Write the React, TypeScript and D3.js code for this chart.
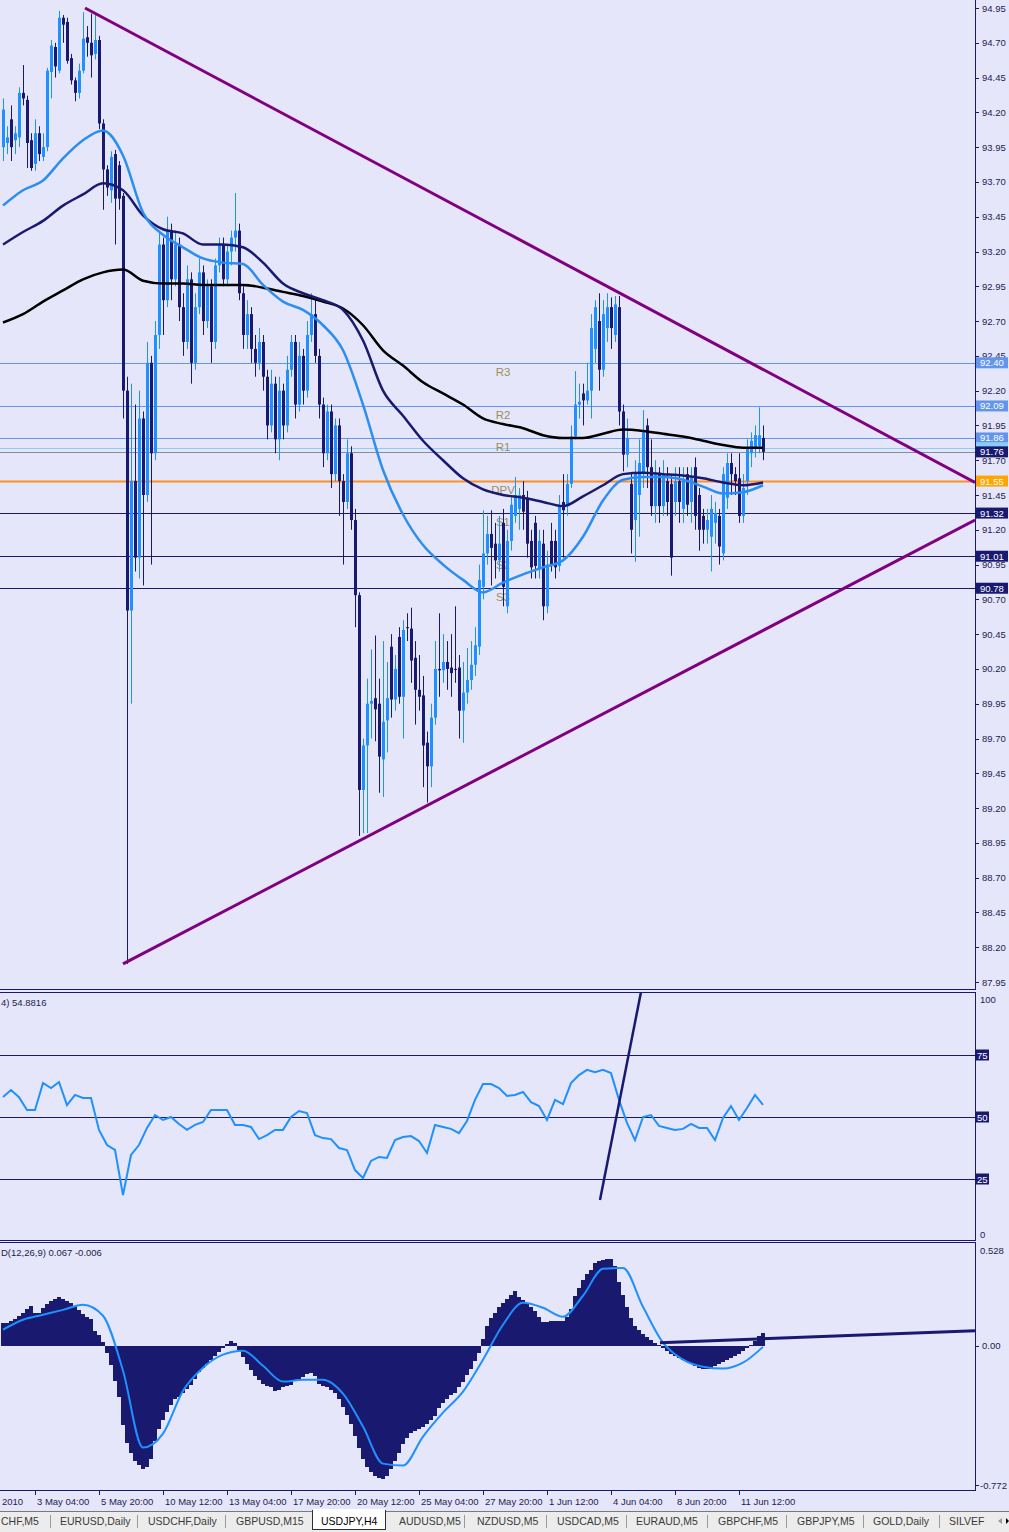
import React from 'react';
import * as d3 from 'd3';

// ---------- DATA ----------
const openP = [
  93.95,93.98,94.15,94.00,94.02,94.34,94.29,94.00,93.83,94.05,
  93.88,93.95,94.49,94.67,94.50,94.88,94.85,94.59,94.43,94.34,
  94.50,94.74,94.70,94.62,94.72,94.12,93.79,93.64,93.90,93.82,
  93.60,92.20,90.62,91.55,91.00,92.00,91.45,92.40,91.75,92.60,
  93.25,92.85,93.35,93.00,93.25,92.80,92.55,93.00,92.40,92.80,
  93.05,92.70,92.95,92.55,93.10,93.25,93.00,93.20,93.30,93.35,
  92.90,92.60,92.75,92.50,92.40,92.55,92.30,91.95,92.25,91.85,
  92.20,91.95,92.35,92.55,92.10,92.45,92.20,92.60,92.75,92.45,
  92.10,91.75,92.05,91.60,91.95,91.55,91.40,91.75,91.27,90.73,
  89.33,89.65,89.95,89.99,89.95,89.55,89.83,90.36,89.98,90.43,
  90.00,90.50,90.49,90.28,90.05,90.01,89.67,89.50,89.85,90.20,
  90.19,90.25,90.21,90.20,90.21,89.90,90.03,90.12,90.23,90.36,
  90.79,91.03,91.17,91.10,90.98,91.25,90.65,91.12,91.30,91.35,
  91.45,91.43,91.12,91.25,90.92,91.10,90.65,91.12,91.12,90.94,
  91.40,91.37,91.53,91.87,92.10,92.18,92.13,92.20,92.50,92.70,
  92.35,92.65,92.80,92.60,92.80,92.05,91.74,91.53,91.27,91.45,
  91.60,91.95,91.65,91.37,91.60,91.37,91.55,91.53,91.40,91.55,
  91.35,91.60,91.40,91.65,91.45,91.30,91.20,91.15,91.25,91.30,
  91.03,91.43,91.68,91.60,91.57,91.30,91.55,91.75,91.78,91.80,
  91.86,
];
const highP = [
  94.30,94.10,94.25,94.10,94.38,94.54,94.32,94.05,94.15,94.10,
  94.05,94.52,94.72,94.70,94.93,94.90,94.88,94.62,94.45,94.55,
  94.92,94.82,94.91,94.90,94.75,94.15,93.82,93.92,93.93,93.85,
  93.62,92.30,92.25,92.10,92.20,92.05,92.55,92.45,92.70,93.35,
  93.30,93.45,93.40,93.35,93.30,92.90,93.10,93.05,92.90,93.15,
  93.10,93.00,93.00,93.15,93.30,93.30,93.25,93.35,93.62,93.40,
  92.95,92.85,92.80,92.60,92.65,92.60,92.35,92.35,92.30,92.30,
  92.25,92.45,92.60,92.60,92.55,92.50,92.70,92.90,92.85,92.50,
  92.15,92.10,92.10,92.00,92.00,91.60,91.85,91.80,91.35,90.75,
  89.70,90.13,90.34,90.44,90.13,90.40,90.25,90.45,90.30,90.50,
  90.55,90.60,90.64,90.40,90.30,90.15,89.75,89.95,90.40,90.60,
  90.45,90.40,90.45,90.65,90.30,90.25,90.35,90.40,90.50,90.95,
  91.34,91.30,91.34,91.25,91.30,91.35,91.20,91.45,91.58,91.50,
  91.55,91.48,91.20,91.30,91.20,91.20,91.05,91.25,91.20,91.45,
  91.60,91.60,91.95,92.34,92.25,92.25,92.40,92.75,92.85,92.90,
  92.85,92.90,92.87,92.88,92.88,92.10,92.00,91.60,91.70,91.85,
  92.06,92.00,91.85,91.70,91.65,91.70,91.65,91.60,91.65,91.65,
  91.65,91.65,91.65,91.72,91.50,91.35,91.35,91.45,91.40,91.35,
  91.65,91.75,91.75,91.65,91.75,91.60,91.85,91.90,91.95,92.08,
  91.95,
];
const lowP = [
  93.85,93.90,93.85,93.90,93.95,94.25,93.80,93.78,93.78,93.85,
  93.85,93.92,94.30,94.45,94.48,94.70,94.55,94.40,94.28,94.30,
  94.48,94.60,94.45,94.58,94.08,93.50,93.60,93.55,93.25,93.50,
  92.00,88.08,89.95,90.90,90.85,90.80,91.40,90.95,91.70,92.50,
  92.60,92.80,92.85,92.95,92.70,92.45,92.50,92.25,92.35,92.75,
  92.60,92.65,92.40,92.50,93.05,92.95,92.95,93.10,93.20,92.85,
  92.50,92.50,92.40,92.30,92.35,92.20,91.85,91.90,91.75,91.70,
  91.85,91.90,92.30,92.00,92.05,92.10,92.15,92.55,92.40,92.00,
  91.65,91.70,91.50,91.55,91.30,90.95,91.35,91.20,90.50,89.00,
  89.02,89.02,89.70,89.68,89.31,89.28,89.60,89.85,89.90,89.95,
  89.70,90.40,90.10,89.80,89.90,89.35,89.24,89.35,89.80,90.00,
  90.10,90.05,90.00,90.10,89.70,89.67,89.95,90.05,90.15,90.30,
  90.70,90.95,90.80,90.85,90.90,90.65,90.60,91.05,91.25,91.20,
  91.20,91.00,90.85,90.85,90.85,90.55,90.60,90.90,90.85,90.90,
  91.00,91.30,91.50,91.85,92.00,91.95,92.10,92.00,92.40,92.20,
  92.30,92.55,92.50,92.55,91.95,91.62,91.65,91.03,90.97,91.15,
  91.50,91.50,91.30,91.25,91.25,91.30,91.30,90.87,91.30,91.25,
  91.25,91.30,91.25,91.20,91.05,91.10,91.10,90.90,91.10,90.95,
  90.98,91.35,91.45,91.45,91.25,91.25,91.45,91.65,91.72,91.75,
  91.70,
];
const closeP = [
  94.22,94.02,93.95,94.05,94.34,94.30,93.98,93.80,94.05,93.90,
  93.95,94.50,94.68,94.53,94.88,94.83,94.57,94.43,94.34,94.50,
  94.73,94.70,94.61,94.72,94.12,93.79,93.66,93.88,93.58,93.58,
  92.20,90.62,91.55,91.00,92.00,91.45,92.40,91.75,92.60,93.25,
  92.85,93.35,93.00,93.25,92.80,92.55,93.00,92.40,92.80,93.05,
  92.70,92.95,92.55,93.10,93.25,93.00,93.20,93.30,93.35,92.90,
  92.60,92.75,92.50,92.40,92.55,92.30,91.95,92.25,91.85,92.20,
  91.95,92.35,92.55,92.10,92.45,92.20,92.60,92.75,92.45,92.10,
  91.75,92.05,91.60,91.95,91.55,91.40,91.75,91.27,90.73,89.33,
  89.65,89.95,89.97,89.91,89.57,89.82,89.99,89.98,90.20,90.00,
  90.48,90.50,90.26,90.05,90.00,89.65,89.50,89.85,90.20,90.19,
  90.25,90.20,90.17,90.20,89.90,90.03,90.12,90.23,90.37,90.84,
  91.03,91.17,91.07,90.98,91.10,90.79,91.12,91.38,91.45,91.45,
  91.33,91.10,90.93,90.94,91.12,90.65,90.95,90.95,90.93,91.37,
  91.34,91.53,91.87,92.10,92.12,92.13,92.20,92.65,92.80,92.35,
  92.75,92.80,92.65,92.82,92.05,91.74,91.86,91.20,91.60,91.68,
  91.90,91.65,91.37,91.60,91.37,91.60,91.40,91.00,91.55,91.40,
  91.55,91.38,91.58,91.30,91.20,91.20,91.27,91.35,91.32,91.08,
  91.60,91.68,91.60,91.55,91.30,91.50,91.78,91.84,91.88,91.88,
  91.76,
];

// moving averages, one value every MA_STEP bars
const MA_STEP = 5;
const maFast = [
  93.53,93.64,93.71,93.87,94.00,94.07,93.89,93.48,93.32,93.23,
  93.15,93.12,93.11,92.96,92.84,92.78,92.67,92.49,92.10,91.63,
  91.31,91.09,90.95,90.84,90.75,90.82,90.88,90.93,90.98,91.15,
  91.41,91.56,91.58,91.58,91.56,91.51,91.46,91.47,91.52,
];
const maMid = [
  93.25,93.34,93.42,93.53,93.61,93.69,93.64,93.46,93.36,93.33,
  93.25,93.25,93.23,93.12,92.97,92.90,92.85,92.78,92.56,92.20,
  92.02,91.84,91.70,91.57,91.49,91.45,91.43,91.40,91.37,91.44,
  91.52,91.60,91.61,91.60,91.59,91.57,91.54,91.52,91.54,
];
const maSlow = [
  92.69,92.75,92.84,92.92,93.00,93.05,93.07,92.99,92.97,92.97,
  92.96,92.96,92.96,92.94,92.91,92.88,92.84,92.79,92.67,92.49,
  92.38,92.26,92.18,92.10,92.00,91.96,91.93,91.88,91.86,91.86,
  91.89,91.92,91.91,91.89,91.87,91.84,91.81,91.79,91.79,
];

const priceTicks = [
  94.95,94.70,94.45,94.20,93.95,93.70,93.45,93.20,92.95,92.70,
  92.45,92.20,91.95,91.70,91.45,91.20,90.95,90.70,90.45,90.20,
  89.95,89.70,89.45,89.20,88.95,88.70,88.45,88.20,87.95,
];

const pivotNames = ['R3', 'R2', 'R1', 'DPV', 'S1', 'S2', 'S3'];
const pivotValues = [92.40, 92.09, 91.86, 91.55, 91.32, 91.01, 90.78];
const pivotLineColors = ['#6495ED', '#6495ED', '#6495ED', '#FF9020', '#191970', '#191970', '#191970'];
const pivotBoxColors = ['#6495ED', '#6495ED', '#6495ED', '#FFA500', '#191970', '#191970', '#191970'];
const PIVOT_LABEL_BAR = 125;
const askValue = 91.79;
const bidValue = 91.76;

// trend lines: [bar, price]
const upperTrend = [[20.5, 94.95], [243, 91.54]];
const lowerTrend = [[30, 88.08], [243, 91.27]];

// RSI(14), one value every RSI_STEP bars
const RSI_STEP = 2;
const rsiValues = [
  58.1,60.9,58.0,52.8,52.8,63.7,61.7,64.1,54.8,58.9,
  57.7,57.7,44.8,38.7,36.7,18.5,34.7,38.7,45.6,50.8,
  48.8,50.0,47.2,44.8,46.8,48.0,52.8,52.8,52.8,46.8,
  46.8,46.0,41.1,42.7,44.8,44.8,50.0,52.4,51.6,42.7,
  41.5,41.1,37.5,36.7,28.6,25.4,32.3,33.9,33.5,40.7,
  41.9,42.3,40.3,35.5,46.8,46.0,45.2,43.5,48.4,56.9,
  63.3,63.3,61.7,58.5,58.9,60.1,56.0,54.4,48.8,56.9,
  55.2,63.7,66.9,69.0,68.1,69.0,67.7,56.9,47.6,40.7,
  50.0,50.8,46.4,45.6,44.8,45.2,47.2,45.6,45.6,40.7,
  49.6,54.4,48.8,53.6,58.9,54.88,
];
const rsiLevels = [75, 50, 25];
const rsiTrend = [[149.25, 16.5], [159.5, 100.4]];

// MACD(12,26,9)
const macdHist = [
  0.120,0.120,0.131,0.141,0.157,0.173,0.194,0.209,0.173,0.173,
  0.199,0.220,0.236,0.246,0.257,0.246,0.236,0.225,0.209,0.188,
  0.168,0.152,0.141,0.079,0.058,0.021,-0.037,-0.099,-0.183,-0.267,
  -0.414,-0.508,-0.560,-0.602,-0.623,-0.644,-0.634,-0.592,-0.497,-0.435,
  -0.387,-0.346,-0.309,-0.277,-0.267,-0.246,-0.225,-0.204,-0.173,-0.136,
  -0.115,-0.094,-0.073,-0.052,-0.031,-0.010,0.010,0.026,0.016,-0.021,
  -0.058,-0.094,-0.126,-0.157,-0.178,-0.199,-0.209,-0.215,-0.236,-0.230,
  -0.215,-0.209,-0.204,-0.183,-0.173,-0.162,-0.147,-0.141,-0.157,-0.199,
  -0.209,-0.215,-0.230,-0.246,-0.277,-0.319,-0.361,-0.408,-0.471,-0.534,
  -0.592,-0.634,-0.660,-0.681,-0.691,-0.696,-0.681,-0.644,-0.602,-0.560,
  -0.513,-0.482,-0.455,-0.445,-0.435,-0.424,-0.408,-0.387,-0.366,-0.325,
  -0.298,-0.277,-0.257,-0.246,-0.215,-0.188,-0.152,-0.120,-0.079,-0.037,
  0.037,0.105,0.147,0.173,0.204,0.225,0.246,0.267,0.288,0.257,
  0.241,0.225,0.204,0.183,0.152,0.126,0.126,0.131,0.131,0.131,
  0.131,0.152,0.194,0.262,0.304,0.346,0.377,0.398,0.435,0.445,
  0.450,0.455,0.455,0.419,0.335,0.267,0.204,0.147,0.105,0.084,
  0.063,0.047,0.031,0.016,0.005,-0.010,-0.026,-0.042,-0.052,-0.063,
  -0.073,-0.084,-0.089,-0.105,-0.115,-0.120,-0.120,-0.120,-0.105,-0.094,
  -0.084,-0.073,-0.063,-0.052,-0.042,-0.026,-0.010,0.005,0.026,0.052,
  0.068,
];
const SIGNAL_STEP = 5;
const macdSignal = [
  0.084,0.136,0.162,0.188,0.215,0.157,-0.131,-0.534,-0.461,-0.236,
  -0.115,-0.047,-0.026,-0.105,-0.188,-0.178,-0.178,-0.251,-0.424,-0.618,
  -0.628,-0.476,-0.351,-0.241,-0.073,0.110,0.225,0.199,0.152,0.262,
  0.403,0.408,0.204,0.016,-0.073,-0.110,-0.120,-0.089,-0.006,
];
const macdTrend = [[164.25, 0.016], [243, 0.079]];

const timeLabels = ['3 May 04:00', '5 May 20:00', '10 May 12:00', '13 May 04:00', '17 May 20:00', '20 May 12:00',
  '25 May 04:00', '27 May 20:00', '1 Jun 12:00', '4 Jun 04:00', '8 Jun 20:00', '11 Jun 12:00'];
const timeLabelBars = [8, 24, 40, 56, 72, 88, 104, 120, 136, 152, 168, 184];

const tabNames = ['CHF,M5', 'EURUSD,Daily', 'USDCHF,Daily', 'GBPUSD,M15', 'USDJPY,H4', 'AUDUSD,M5', 'NZDUSD,M5',
  'USDCAD,M5', 'EURAUD,M5', 'GBPCHF,M5', 'GBPJPY,M5', 'GOLD,Daily', 'SILVEF'];
const activeTab = 'USDJPY,H4';

// ---------- COMPONENT ----------
const BG = '#E6E6FA';
const NAVY = '#191970';
const BULL = '#1E90FF';
const AXIS_TXT = '#1c1c50';
const FONT = "'Liberation Sans', Arial, sans-serif";
const AX_FS = 9.5;

export default function App() {
  const x = d3.scaleLinear().domain([0, 190]).range([3, 763]);
  const yP = d3.scaleLinear().domain([87.95, 94.95]).range([982, 8]);
  const yR = d3.scaleLinear().domain([0, 100]).range([1241, 993]);
  const yM = d3.scaleLinear().domain([-0.772, 0.528]).range([1493, 1245]);

  const maLine = d3.line<number>()
    .x((_, i) => x(i * MA_STEP))
    .y((v) => yP(v))
    .curve(d3.curveMonotoneX);
  const rsiLine = d3.line<number>()
    .x((_, i) => x(i * RSI_STEP))
    .y((v) => yR(v));
  const sigLine = d3.line<number>()
    .x((_, i) => x(i * SIGNAL_STEP))
    .y((v) => yM(v))
    .curve(d3.curveMonotoneX);

  const px = (v: number) => Math.round(v) + 0.5;

  const tabTextX = [1, 60, 148, 236, 321, 399, 477, 557, 636, 718, 797, 873, 949];
  const tabSepX = [50, 137, 225, 464, 546, 626, 707, 786, 863, 939];

  return (
    <svg width={1009} height={1532} style={{ position: 'absolute', left: 0, top: 0, display: 'block' }}
      fontFamily={FONT}>
      <defs>
        <clipPath id="cMain"><rect x={0} y={0} width={975} height={989} /></clipPath>
        <clipPath id="cRsi"><rect x={0} y={993} width={975} height={247} /></clipPath>
        <clipPath id="cMacd"><rect x={0} y={1243} width={975} height={247} /></clipPath>
      </defs>
      <rect x={0} y={0} width={1009} height={1532} fill={BG} />

      {/* ===== MAIN PANEL ===== */}
      <g clipPath="url(#cMain)">
        {pivotValues.map((v, i) => (
          <line key={'pl' + i} x1={0} x2={975} y1={px(yP(v))} y2={px(yP(v))}
            stroke={pivotLineColors[i]} strokeWidth={i === 3 ? 2 : 1} />
        ))}
        <line x1={0} x2={975} y1={px(yP(askValue))} y2={px(yP(askValue))} stroke="#87CEFA" strokeWidth={1} />
        <line x1={0} x2={975} y1={px(yP(bidValue))} y2={px(yP(bidValue))} stroke="#8a8aa0" strokeWidth={1} />
        {pivotNames.map((n, i) => (
          <text key={'pn' + i} x={x(PIVOT_LABEL_BAR)} y={yP(pivotValues[i]) + 13} textAnchor="middle"
            fontSize={11.5} fill="#9a8f5c">{n}</text>
        ))}
        {/* candles */}
        {closeP.map((c, i) => {
          const o = openP[i];
          const up = c > o;
          const col = up ? BULL : NAVY;
          const xc = px(x(i));
          const yTop = yP(Math.max(o, c));
          const yBot = yP(Math.min(o, c));
          return (
            <g key={'c' + i}>
              <line x1={xc} x2={xc} y1={yP(highP[i])} y2={yP(lowP[i])} stroke={col} strokeWidth={1} />
              <rect x={xc - 1.5} y={yTop} width={3} height={Math.max(1, yBot - yTop)} fill={col} />
            </g>
          );
        })}
        {/* moving averages */}
        <path d={maLine(maSlow) || ''} fill="none" stroke="#000000" strokeWidth={2.5} />
        <path d={maLine(maMid) || ''} fill="none" stroke={NAVY} strokeWidth={2.5} />
        <path d={maLine(maFast) || ''} fill="none" stroke="#2b8ef0" strokeWidth={2.5} />
        {/* trend lines */}
        {[upperTrend, lowerTrend].map((t, i) => (
          <line key={'tl' + i} x1={x(t[0][0])} y1={yP(t[0][1])} x2={x(t[1][0])} y2={yP(t[1][1])}
            stroke="#800080" strokeWidth={3} />
        ))}
      </g>

      {/* ===== RSI PANEL ===== */}
      <g clipPath="url(#cRsi)">
        {rsiLevels.map((l) => (
          <line key={'rl' + l} x1={0} x2={975} y1={px(yR(l))} y2={px(yR(l))} stroke={NAVY} strokeWidth={1} />
        ))}
        <path d={rsiLine(rsiValues) || ''} fill="none" stroke={BULL} strokeWidth={2} />
        <line x1={x(rsiTrend[0][0])} y1={yR(rsiTrend[0][1])} x2={x(rsiTrend[1][0])} y2={yR(rsiTrend[1][1])}
          stroke={NAVY} strokeWidth={2.5} />
      </g>
      <text x={1} y={1006} fontSize={AX_FS} fill={AXIS_TXT}>4) 54.8816</text>

      {/* ===== MACD PANEL ===== */}
      <g clipPath="url(#cMacd)" shapeRendering="crispEdges">
        {macdHist.map((v, i) => {
          const y0 = Math.round(yM(0));
          const y1 = Math.round(yM(v));
          return (
            <rect key={'h' + i} x={Math.round(x(i)) - 2} y={Math.min(y0, y1)} width={4}
              height={Math.max(1, Math.abs(y1 - y0))} fill={NAVY} />
          );
        })}
      </g>
      <g clipPath="url(#cMacd)">
        <path d={sigLine(macdSignal) || ''} fill="none" stroke={BULL} strokeWidth={2} />
        <line x1={x(macdTrend[0][0])} y1={yM(macdTrend[0][1])} x2={x(macdTrend[1][0])} y2={yM(macdTrend[1][1])}
          stroke={NAVY} strokeWidth={3} />
      </g>
      <text x={1} y={1256} fontSize={AX_FS} fill={AXIS_TXT}>D(12,26,9) 0.067 -0.006</text>

      {/* ===== FRAMES ===== */}
      <g shapeRendering="crispEdges">
        <line x1={0} x2={975.5} y1={989.5} y2={989.5} stroke={NAVY} strokeWidth={1} />
        <line x1={0} x2={975.5} y1={992.5} y2={992.5} stroke={NAVY} strokeWidth={1} />
        <line x1={0} x2={975.5} y1={1240.5} y2={1240.5} stroke={NAVY} strokeWidth={1} />
        <line x1={0} x2={975.5} y1={1242.5} y2={1242.5} stroke={NAVY} strokeWidth={1} />
        <line x1={0} x2={975.5} y1={1490.5} y2={1490.5} stroke={NAVY} strokeWidth={1} />
        <line x1={975.5} x2={975.5} y1={0} y2={989.5} stroke={NAVY} strokeWidth={1} />
        <line x1={975.5} x2={975.5} y1={992.5} y2={1240.5} stroke={NAVY} strokeWidth={1} />
        <line x1={975.5} x2={975.5} y1={1242.5} y2={1490.5} stroke={NAVY} strokeWidth={1} />
      </g>

      {/* price axis */}
      {priceTicks.map((t) => (
        <g key={'pt' + t}>
          <line x1={975} x2={979} y1={px(yP(t))} y2={px(yP(t))} stroke={NAVY} strokeWidth={1} />
          <text x={982} y={yP(t) + 3.5} fontSize={AX_FS} fill={AXIS_TXT}>{t.toFixed(2)}</text>
        </g>
      ))}
      {pivotValues.map((v, i) => (
        <g key={'pb' + i}>
          <rect x={976} y={yP(v) - 5.5} width={32} height={11} fill={pivotBoxColors[i]} />
          <text x={980} y={yP(v) + 3.5} fontSize={AX_FS} fill="#ffffff">{v.toFixed(2)}</text>
        </g>
      ))}
      <rect x={976} y={yP(askValue) - 5.5} width={32} height={11} fill="#87CEFA" />
      <rect x={976} y={yP(bidValue) - 5.5} width={32} height={11} fill={NAVY} />
      <text x={980} y={yP(bidValue) + 3.5} fontSize={AX_FS} fill="#ffffff">{bidValue.toFixed(2)}</text>

      {/* RSI axis */}
      <text x={980} y={1003} fontSize={AX_FS} fill={AXIS_TXT}>100</text>
      {rsiLevels.map((l) => (
        <g key={'ra' + l}>
          <rect x={976} y={yR(l) - 5.5} width={13} height={11} fill={NAVY} />
          <text x={977} y={yR(l) + 3.5} fontSize={AX_FS} fill="#ffffff">{l}</text>
        </g>
      ))}
      <text x={980} y={1238} fontSize={AX_FS} fill={AXIS_TXT}>0</text>

      {/* MACD axis */}
      <text x={980} y={1254} fontSize={AX_FS} fill={AXIS_TXT}>0.528</text>
      <line x1={975} x2={979} y1={px(yM(0))} y2={px(yM(0))} stroke={NAVY} strokeWidth={1} />
      <text x={982} y={yM(0) + 3.5} fontSize={AX_FS} fill={AXIS_TXT}>0.00</text>
      <line x1={975} x2={979} y1={1485.5} y2={1485.5} stroke={NAVY} strokeWidth={1} />
      <text x={980} y={1489} fontSize={AX_FS} fill={AXIS_TXT}>-0.772</text>

      {/* time axis */}
      <text x={2} y={1505} fontSize={AX_FS} fill={AXIS_TXT}>2010</text>
      {timeLabelBars.map((b, i) => (
        <g key={'tx' + i}>
          <line x1={px(x(b))} x2={px(x(b))} y1={1490} y2={1495} stroke={NAVY} strokeWidth={1} />
          <text x={x(b) + 2} y={1505} fontSize={AX_FS} fill={AXIS_TXT}>{timeLabels[i]}</text>
        </g>
      ))}

      {/* tab bar */}
      <rect x={0} y={1511} width={1009} height={21} fill="#ECECEC" />
      <line x1={0} x2={1009} y1={1511.5} y2={1511.5} stroke="#7a7a7a" strokeWidth={1} />
      <rect x={312.5} y={1510.5} width={73} height={19} fill="#ffffff" stroke="#303030" strokeWidth={1} />
      <rect x={313} y={1509} width={72} height={3} fill="#ffffff" />
      {tabNames.map((n, i) => (
        <text key={'tab' + i} x={tabTextX[i]} y={1525} fontSize={10.5}
          fill={n === activeTab ? '#000000' : '#3a3a3a'}>{n}</text>
      ))}
      {tabSepX.map((s, i) => (
        <line key={'ts' + i} x1={s + 0.5} x2={s + 0.5} y1={1515} y2={1528} stroke="#9a9a9a" strokeWidth={1} />
      ))}
      <path d="M998,1521 L1002,1518 L1002,1524 Z" fill="#9a9a9a" />
      <path d="M1006,1518 L1009,1521 L1006,1524 Z" fill="#000000" />
    </svg>
  );
}
